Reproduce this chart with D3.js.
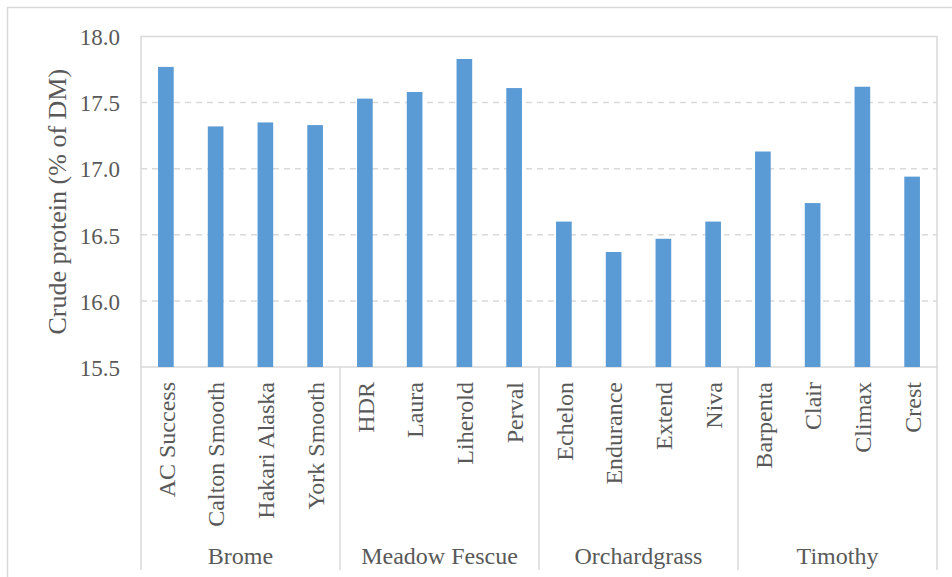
<!DOCTYPE html>
<meta charset="utf-8">
<style>
body { margin: 0; background: #fff; }
svg text { font-family: "Liberation Serif", "Times New Roman", serif !important; fill: #595959; }
.tick line { display: none; }
.domain { display: none; }
</style>
<svg width="952" height="577"></svg>
<script src="https://d3js.org/d3.v7.min.js"></script>
<script>
var groups = ["Brome", "Meadow Fescue", "Orchardgrass", "Timothy"];
var varieties = ["AC Success", "Calton Smooth", "Hakari Alaska", "York Smooth",
                 "HDR", "Laura", "Liherold", "Perval",
                 "Echelon", "Endurance", "Extend", "Niva",
                 "Barpenta", "Clair", "Climax", "Crest"];
var varietyGroup = ["Brome", "Brome", "Brome", "Brome",
                    "Meadow Fescue", "Meadow Fescue", "Meadow Fescue", "Meadow Fescue",
                    "Orchardgrass", "Orchardgrass", "Orchardgrass", "Orchardgrass",
                    "Timothy", "Timothy", "Timothy", "Timothy"];
var protein = [17.77, 17.32, 17.35, 17.33,
               17.53, 17.58, 17.83, 17.61,
               16.60, 16.37, 16.47, 16.60,
               17.13, 16.74, 17.62, 16.94];
var yTicks = [15.5, 16.0, 16.5, 17.0, 17.5, 18.0];

var svg = d3.select("svg");

var plotLeft = 141, plotRight = 937, plotTop = 36.5, plotBottom = 367;

// outer chart border
svg.append("rect")
    .attr("x", 7.5).attr("y", 7.5)
    .attr("width", 970).attr("height", 600)
    .attr("fill", "none")
    .attr("stroke", "#d9d9d9")
    .attr("stroke-width", 1.5);

var x = d3.scaleBand()
    .domain(varieties)
    .range([plotLeft, plotRight]);

var y = d3.scaleLinear()
    .domain([15.5, 18])
    .range([plotBottom, plotTop]);

// gridlines
svg.append("g")
  .selectAll("line")
  .data(yTicks.filter(t => t > 15.5 && t < 18))
  .enter().append("line")
    .attr("x1", plotLeft).attr("x2", plotRight)
    .attr("y1", d => y(d)).attr("y2", d => y(d))
    .attr("stroke", "#d9d9d9")
    .attr("stroke-width", 1.5)
    .attr("stroke-dasharray", "6,5");

// plot area frame
svg.append("rect")
    .attr("x", plotLeft).attr("y", plotTop)
    .attr("width", plotRight - plotLeft).attr("height", plotBottom - plotTop)
    .attr("fill", "none")
    .attr("stroke", "#d9d9d9")
    .attr("stroke-width", 1.5);

// bars
var barW = x.bandwidth() * 0.315;
svg.append("g")
  .selectAll("rect")
  .data(varieties)
  .enter().append("rect")
    .attr("x", d => x(d) + x.bandwidth() / 2 - barW / 2)
    .attr("y", (d, i) => y(protein[i]))
    .attr("width", barW)
    .attr("height", (d, i) => y(15.5) - y(protein[i]))
    .attr("fill", "#5b9bd5");

// y axis
var yAxis = svg.append("g")
    .attr("transform", "translate(" + plotLeft + ",0)")
    .attr("font-family", null)
    .call(d3.axisLeft(y).tickValues(yTicks).tickFormat(d3.format(".1f")).tickSize(0).tickPadding(21));
yAxis.attr("font-family", "Liberation Serif").attr("font-size", 23);
yAxis.selectAll("text")
    .attr("dy", "0.36em");

svg.append("text")
    .attr("transform", "translate(66," + (plotTop + plotBottom) / 2 + ") rotate(-90)")
    .attr("text-anchor", "middle")
    .attr("font-size", 26)
    .text("Crude protein (% of DM)");

// category labels
svg.append("g")
  .selectAll("text")
  .data(varieties)
  .enter().append("text")
    .attr("transform", d => "translate(" + (x(d) + x.bandwidth() / 2) + ",382) rotate(-90)")
    .attr("text-anchor", "end")
    .attr("dy", "0.36em")
    .attr("font-size", 24)
    .text(d => d);

// group separators and labels
var groupBounds = groups.map(g => {
  var members = varieties.filter((v, i) => varietyGroup[i] === g);
  return { name: g, x0: x(members[0]), x1: x(members[members.length - 1]) + x.bandwidth() };
});

svg.append("g")
  .selectAll("line")
  .data([groupBounds[0].x0].concat(groupBounds.map(d => d.x1)))
  .enter().append("line")
    .attr("x1", d => d).attr("x2", d => d)
    .attr("y1", plotBottom).attr("y2", 570)
    .attr("stroke", "#d9d9d9")
    .attr("stroke-width", 1.5);

svg.append("g")
  .selectAll("text")
  .data(groupBounds)
  .enter().append("text")
    .attr("x", d => (d.x0 + d.x1) / 2)
    .attr("y", 564)
    .attr("text-anchor", "middle")
    .attr("font-size", 24)
    .text(d => d.name);

svg.selectAll("text").style("font-family", "'Liberation Serif', 'Times New Roman', serif");
</script>
